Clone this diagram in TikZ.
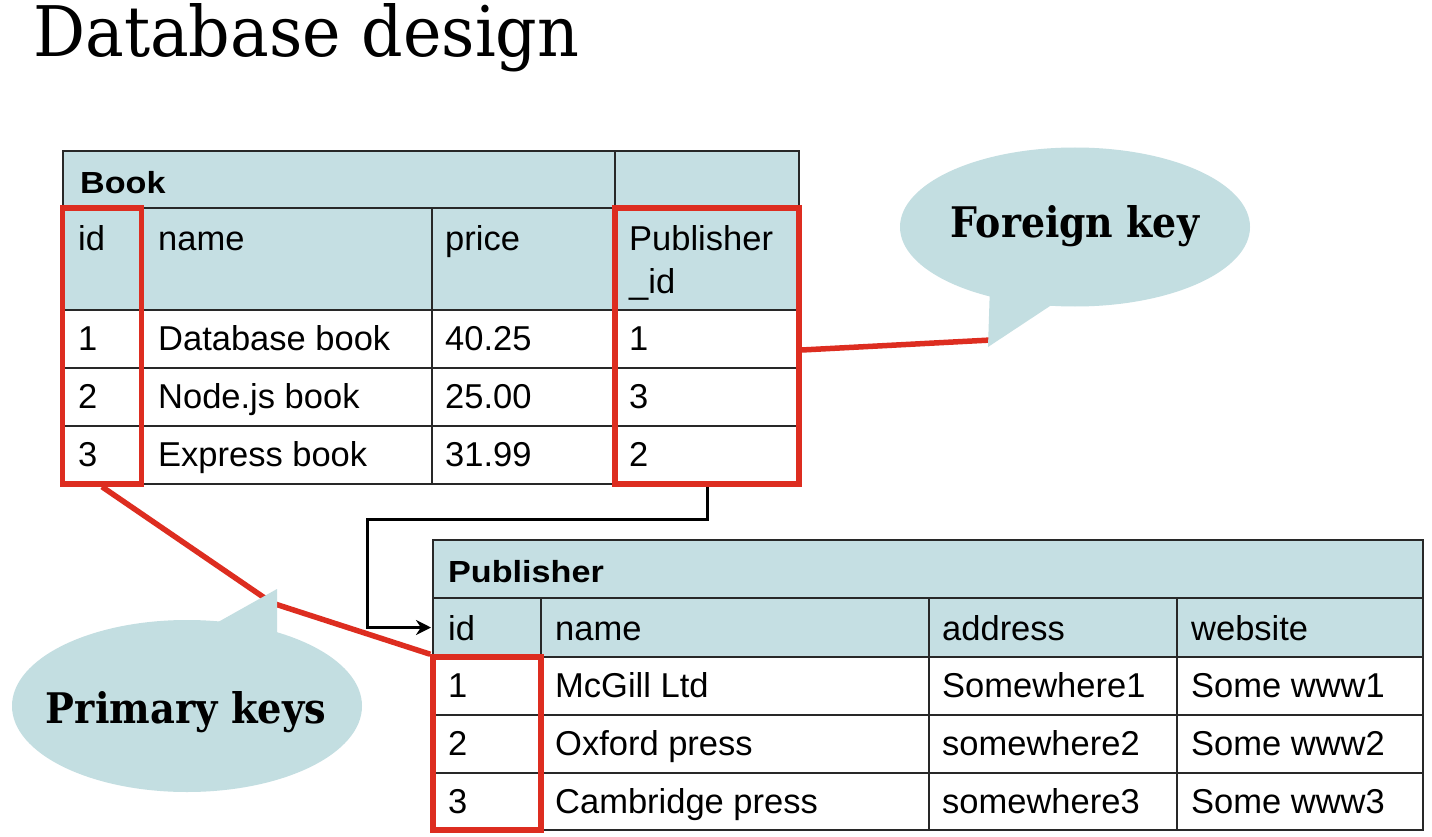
\documentclass[tikz,border=0pt]{standalone}
\usepackage{fontspec}
\usepackage{graphicx}
\setmainfont{Liberation Sans}
\newfontfamily\slab{DejaVu Serif}
\usetikzlibrary{shapes.geometric,calc,arrows.meta}
\definecolor{hdrfill}{RGB}{197,223,227}
\definecolor{callfill}{RGB}{195,222,225}
\definecolor{keyred}{RGB}{221,45,32}
\definecolor{gridc}{RGB}{40,40,40}
\tikzset{
  tblline/.style={draw=gridc, line width=2.4pt},
  celltxt/.style={anchor=base west, inner sep=0pt, font=\fontsize{34.5}{42}\selectfont},
  hdrtxt/.style={anchor=base west, inner sep=0pt},
  redbox/.style={draw=keyred, line width=5.5pt, rectangle, inner sep=0pt},
  redline/.style={draw=keyred, line width=5.5pt},
  bubble/.style={ellipse, fill=callfill, inner sep=0pt},
  bubtxt/.style={anchor=base, inner sep=0pt},
  fkarrow/.style={draw=black, line width=3pt, -{Stealth[length=15pt,width=15pt]}},
}
\newcommand\hdrbold[1]{\scalebox{1.12}[1]{\fontsize{30.5}{36}\selectfont\bfseries #1}}
\begin{document}
\begin{tikzpicture}[x=1pt,y=-1pt]
\useasboundingbox (0,0) rectangle (1432,837);
\fill[white] (0,0) rectangle (1432,837);

% title
\node[anchor=base west, inner sep=0pt] (title) at (33,57) {\resizebox{546pt}{53pt}{\slab Database design}};

% ---------- Book table ----------
\fill[hdrfill] (63,151) rectangle (799,310);
\draw[tblline] (63,151) rectangle (799,484);
\foreach \y in {208,310,368,426} \draw[tblline] (63,\y) -- (799,\y);
\draw[tblline] (141,208) -- (141,484);
\draw[tblline] (432,208) -- (432,484);
\draw[tblline] (615,151) -- (615,484);

\node[hdrtxt] (bktitle) at (80,194) {\hdrbold{Book}};
\node[celltxt] (bkh1) at (78,250) {id};
\node[celltxt] (bkh2) at (158,250) {name};
\node[celltxt] (bkh3) at (445,250) {price};
\node[celltxt] (bkh4) at (629,250) {Publisher};
\node[celltxt] (bkh4b) at (629,293) {\_id};
\foreach \a/\b/\c/\d [count=\i] in {1/Database book/40.25/1, 2/Node.js book/25.00/3, 3/Express book/31.99/2}{
  \pgfmathsetmacro\yb{350+58*(\i-1)}
  \node[celltxt] (bk\i a) at (78,\yb) {\a};
  \node[celltxt] (bk\i b) at (158,\yb) {\b};
  \node[celltxt] (bk\i c) at (445,\yb) {\c};
  \node[celltxt] (bk\i d) at (629,\yb) {\d};
}

% ---------- Publisher table ----------
\fill[hdrfill] (433,540) rectangle (1423,657);
\draw[tblline] (433,540) rectangle (1423,830);
\foreach \y in {598,657,715,773} \draw[tblline] (433,\y) -- (1423,\y);
\foreach \x in {541,929,1177} \draw[tblline] (\x,598) -- (\x,830);

\node[hdrtxt] (pbtitle) at (448,582) {\hdrbold{Publisher}};
\node[celltxt] (pbh1) at (448,640) {id};
\node[celltxt] (pbh2) at (555,640) {name};
\node[celltxt] (pbh3) at (942,640) {address};
\node[celltxt] (pbh4) at (1191,640) {website};
\foreach \a/\b/\c/\d [count=\i] in {1/McGill Ltd/Somewhere1/Some www1, 2/Oxford press/somewhere2/Some www2, 3/Cambridge press/somewhere3/Some www3}{
  \pgfmathsetmacro\yb{697+58*(\i-1)}
  \node[celltxt] (pb\i a) at (448,\yb) {\a};
  \node[celltxt] (pb\i b) at (555,\yb) {\b};
  \node[celltxt] (pb\i c) at (942,\yb) {\c};
  \node[celltxt] (pb\i d) at (1191,\yb) {\d};
}

% ---------- key boxes ----------
\node[redbox, minimum width=79pt, minimum height=276pt] (bkid) at (102,346) {};
\node[redbox, minimum width=184pt, minimum height=276pt] (bkfk) at (707,346) {};
\node[redbox, minimum width=108pt, minimum height=173pt] (pubid) at (487,743.5) {};

% ---------- foreign key reference arrow ----------
\coordinate (pubidw) at (431,627.5);
\draw[fkarrow] (bkfk.south) -- ++(0,33) -| ($(pubidw)+(-64,0)$) -- (pubidw);

% ---------- red pointer lines ----------
\coordinate (fktip) at (991,340);
\draw[redline] ($(bkfk.east)+(0,4)$) -- (fktip);
\coordinate (pktip) at (272,603);
\draw[redline] (bkid.south) -- (pktip) -- (pubid.north west);

% ---------- callouts ----------
\node[bubble, minimum width=350pt, minimum height=159pt] (fkbub) at (1075,227) {};
\fill[callfill] (990,285) -- (988,347) -- (1060,299.4) -- cycle;
\node[bubtxt] (fktext) at (1075,237) {\resizebox{248pt}{32pt}{\slab\bfseries Foreign key}};

\node[bubble, minimum width=350pt, minimum height=172pt] (pkbub) at (187,706) {};
\fill[callfill] (205,629.4) -- (277,589) -- (277,640) -- cycle;
\node[bubtxt] (pktext) at (186,723) {\resizebox{280pt}{32pt}{\slab\bfseries Primary keys}};
\end{tikzpicture}
\end{document}
